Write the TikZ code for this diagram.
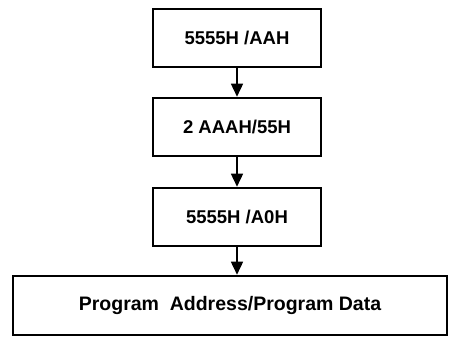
\documentclass[tikz,border=0pt]{standalone}
\usepackage{fontspec}
\setmainfont{Liberation Sans}
\usetikzlibrary{positioning,arrows.meta}

\begin{document}
\begin{tikzpicture}[x=1pt,y=-1pt,
    cmdbox/.style={draw, line width=2.6pt, minimum width=168pt, minimum height=58pt,
        inner sep=0pt, font=\fontsize{18.5}{20}\selectfont\bfseries},
    databox/.style={cmdbox, minimum width=434pt, minimum height=59pt,
        font=\fontsize{19.5}{21}\selectfont\bfseries},
    flow/.style={line width=1.6pt, -{Triangle[width=12pt,length=13pt]}}]
        \useasboundingbox (0,0) rectangle (449,337);
        \node[cmdbox] (aah) at (237,38) {5555H /AAH};
        \node[cmdbox] (h55) at (237,127) {2 AAAH/55H};
        \node[cmdbox] (a0h) at (237,217) {5555H /A0H};
        \node[databox] (prog) at (230,305.5) {Program\ \ Address/Program\ Data};
        \draw[flow] (aah) -- (h55);
        \draw[flow] (h55) -- (a0h);
        \draw[flow] (a0h.south) -- (a0h.south |- prog.north);
\end{tikzpicture}
\end{document}
